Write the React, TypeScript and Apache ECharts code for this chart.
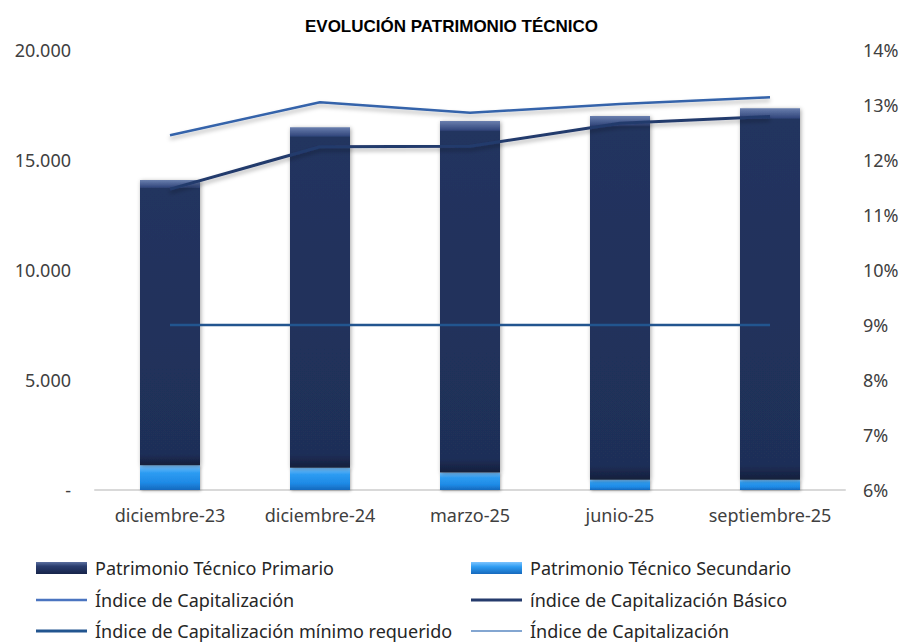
import React, { useEffect, useRef } from "react";
import * as echarts from "echarts";

const categories = ["diciembre-23", "diciembre-24", "marzo-25", "junio-25", "septiembre-25"];
const primario = [12970, 15480, 15970, 16530, 16880];
const secundario = [1120, 1010, 800, 470, 470];
const indiceCap = [12.45, 13.05, 12.86, 13.02, 13.14];
const indiceBasico = [11.47, 12.24, 12.25, 12.67, 12.79];
const minimoRequerido = [9, 9, 9, 9, 9];
const indiceCap2: (number | null)[] = [null, null, null, null, null];

const N_PRIM = "Patrimonio Técnico Primario";
const N_SEC = "Patrimonio Técnico Secundario";
const N_IC = "Índice de Capitalización";
const N_ICB = "índice de Capitalización Básico";
const N_MIN = "Índice de Capitalización mínimo requerido";
const N_IC2 = "Índice de Capitalización ";

const FONT = "'Noto Sans', sans-serif";

export default function App() {
  const ref = useRef<HTMLDivElement>(null);
  useEffect(() => {
    if (!ref.current) return;
    const chart = echarts.init(ref.current, null, { renderer: "svg" });
    const legendText = { fontFamily: FONT, fontSize: 18, color: "#262626", padding: [0, 0, 0, 3] };
    const primGrad = new echarts.graphic.LinearGradient(0, 0, 0, 1, [
      { offset: 0, color: "#6a7fae" },
      { offset: 0.025, color: "#34497e" },
      { offset: 0.03, color: "#22345f" },
      { offset: 0.96, color: "#1f2f58" },
      { offset: 1, color: "#141f3c" },
    ]);
    const secGrad = new echarts.graphic.LinearGradient(0, 0, 0, 1, [
      { offset: 0, color: "#7cc4ff" },
      { offset: 0.3, color: "#2d9cf2" },
      { offset: 0.7, color: "#1e8ae6" },
      { offset: 1, color: "#1669bd" },
    ]);
    const legPrim = new echarts.graphic.LinearGradient(0, 0, 0, 1, [
      { offset: 0, color: "#5b6f9f" },
      { offset: 0.35, color: "#2a3d6e" },
      { offset: 1, color: "#17244a" },
    ]);
    const legSec = new echarts.graphic.LinearGradient(0, 0, 0, 1, [
      { offset: 0, color: "#7cc4ff" },
      { offset: 0.4, color: "#2d9cf2" },
      { offset: 1, color: "#1669bd" },
    ]);
    const mkLegend = (name: string, left: number, cy: number, h: number, color: any) => ({
      orient: "horizontal",
      left,
      top: cy - 10,
      padding: 0,
      itemWidth: 51,
      itemHeight: h,
      itemGap: 0,
      textStyle: legendText,
      data: [{ name, icon: "rect", itemStyle: { color } }],
    });
    chart.setOption({
      animation: false,
      backgroundColor: "#ffffff",
      title: {
        text: "EVOLUCIÓN PATRIMONIO TÉCNICO",
        left: "center",
        top: 13,
        textStyle: { fontFamily: "'Liberation Sans', sans-serif", fontSize: 17, fontWeight: "bold", color: "#000" },
      },
      grid: { left: 95, right: 58, top: 50, bottom: 153, containLabel: false },
      legend: [
        mkLegend(N_PRIM, 36, 569, 12, legPrim),
        mkLegend(N_SEC, 471, 569, 12, legSec),
        mkLegend(N_IC, 36, 601, 2.5, "#4a74c0"),
        mkLegend(N_ICB, 471, 601, 3, "#253b6c"),
        mkLegend(N_MIN, 36, 632, 3, "#22558f"),
        mkLegend(N_IC2, 471, 632, 1.5, "#5a88c2"),
      ],
      xAxis: {
        type: "category",
        data: categories,
        boundaryGap: true,
        axisLine: { show: true, lineStyle: { color: "#d9d9d9", width: 2 } },
        axisTick: { show: false },
        axisLabel: { fontFamily: FONT, fontSize: 18, color: "#404040", margin: 16, interval: 0 },
      },
      yAxis: [
        {
          type: "value",
          min: 0,
          max: 20000,
          interval: 5000,
          splitLine: { show: false },
          axisLine: { show: false },
          axisTick: { show: false },
          axisLabel: {
            fontFamily: FONT,
            fontSize: 18,
            color: "#404040",
            margin: 24,
            formatter: (v: number) => (v === 0 ? "-" : v.toLocaleString("de-DE")),
          },
        },
        {
          type: "value",
          min: 6,
          max: 14,
          interval: 1,
          position: "right",
          splitLine: { show: false },
          axisLine: { show: false },
          axisTick: { show: false },
          axisLabel: {
            fontFamily: FONT,
            fontSize: 18,
            color: "#404040",
            margin: 18,
            formatter: (v: number) => v + "%",
          },
        },
      ],
      series: [
        {
          name: N_SEC,
          type: "bar",
          stack: "pt",
          barWidth: 60,
          data: secundario,
          itemStyle: {
            color: secGrad,
            shadowColor: "rgba(0,0,0,0.3)",
            shadowBlur: 3,
            shadowOffsetX: 1,
            shadowOffsetY: 1,
          },
        },
        {
          name: N_PRIM,
          type: "bar",
          stack: "pt",
          barWidth: 60,
          data: primario,
          itemStyle: {
            color: primGrad,
            shadowColor: "rgba(0,0,0,0.35)",
            shadowBlur: 4,
            shadowOffsetX: 1,
            shadowOffsetY: 1,
          },
        },
        {
          name: N_IC,
          type: "line",
          yAxisIndex: 1,
          data: indiceCap,
          symbol: "none",
          color: "#3463aa",
          lineStyle: {
            color: "#3463aa",
            width: 2.5,
            shadowColor: "rgba(0,0,0,0.3)",
            shadowBlur: 4,
            shadowOffsetY: 3,
          },
        },
        {
          name: N_ICB,
          type: "line",
          yAxisIndex: 1,
          data: indiceBasico,
          symbol: "none",
          color: "#243a6c",
          lineStyle: {
            color: "#243a6c",
            width: 3,
            shadowColor: "rgba(0,0,0,0.3)",
            shadowBlur: 4,
            shadowOffsetY: 3,
          },
        },
        {
          name: N_MIN,
          type: "line",
          yAxisIndex: 1,
          data: minimoRequerido,
          symbol: "none",
          color: "#22558f",
          lineStyle: { color: "#22558f", width: 2.5 },
        },
        {
          name: N_IC2,
          type: "line",
          yAxisIndex: 1,
          data: indiceCap2,
          symbol: "none",
          color: "#5a88c2",
          lineStyle: { color: "#5a88c2", width: 1.5 },
        },
      ],
    });
    return () => chart.dispose();
  }, []);
  return <div ref={ref} style={{ width: 903, height: 643, position: "absolute", left: 0, top: 0 }} />;
}
